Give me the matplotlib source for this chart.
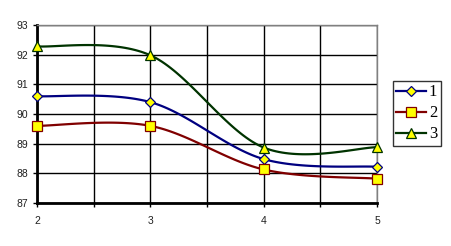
import numpy as np
import matplotlib.pyplot as plt
from matplotlib.ticker import MultipleLocator

x = [2, 3, 4, 5]
s1 = [90.6, 90.4, 88.48, 88.22]
s2 = [89.6, 89.6, 88.13, 87.82]
s3 = [92.28, 91.98, 88.87, 88.88]
labels = ["1", "2", "3"]
colors = ["#000080", "#800000", "#003300"]
markers = ["D", "s", "^"]
msizes = [5, 7, 7]


def smooth(xs, ys, n=40):
    # Excel-like smoothed line: cubic Bezier through the points
    p = np.column_stack([xs, ys]).astype(float)
    ext = np.vstack([p[0], p, p[-1]])
    out = []
    t = np.linspace(0, 1, n)[:, None]
    for i in range(len(p) - 1):
        p0, p1, p2, p3 = ext[i], ext[i + 1], ext[i + 2], ext[i + 3]
        c1 = p1 + (p2 - p0) / 6
        c2 = p2 - (p3 - p1) / 6
        seg = ((1 - t) ** 3) * p1 + 3 * ((1 - t) ** 2) * t * c1 + 3 * (1 - t) * t ** 2 * c2 + t ** 3 * p2
        out.append(seg)
    out = np.vstack(out)
    return out[:, 0], out[:, 1]


fig = plt.figure(figsize=(4.51, 2.46), dpi=100)
ax = fig.add_axes([37 / 451, 43 / 246, 340 / 451, 178 / 246])

for ys, lab, c, m, ms in zip([s1, s2, s3], labels, colors, markers, msizes):
    sx, sy = smooth(x, ys)
    ax.plot(sx, sy, color=c, lw=1.6, zorder=3)
    ax.plot(x, ys, linestyle="none", marker=m, ms=ms, mfc="#FFFF00", mec=c, mew=0.9,
            zorder=4, clip_on=False)
    ax.plot([], [], color=c, lw=1.6, marker=m, ms=ms, mfc="#FFFF00", mec=c, mew=0.9, label=lab)

ax.set_xlim(2, 5)
ax.set_ylim(87, 93)
ax.xaxis.set_major_locator(MultipleLocator(1))
ax.xaxis.set_minor_locator(MultipleLocator(0.5))
ax.yaxis.set_major_locator(MultipleLocator(1))
ax.grid(True, which="both", axis="x", color="black", lw=1)
ax.grid(True, which="major", axis="y", color="black", lw=1)
ax.set_axisbelow(True)

for side in ["top", "right"]:
    ax.spines[side].set_color("#808080")
    ax.spines[side].set_linewidth(1)
for side in ["left", "bottom"]:
    ax.spines[side].set_color("black")
    ax.spines[side].set_linewidth(2)

ax.tick_params(axis="both", which="both", length=3, width=1, labelsize=7.5,
               labelcolor="#202020")
ax.tick_params(axis="x", which="minor", length=3)
ax.tick_params(axis="x", pad=6)
for lbl in ax.get_xticklabels() + ax.get_yticklabels():
    lbl.set_family("Liberation Sans")

leg = fig.legend(loc="upper left", bbox_to_anchor=(393 / 451, 1 - 81 / 246),
                 bbox_transform=fig.transFigure, frameon=True,
                 fancybox=False, edgecolor="black", handlelength=1.75,
                 prop={"family": "Liberation Serif", "size": 12}, borderpad=0.2,
                 labelspacing=0.3, handletextpad=0.2, borderaxespad=0)
leg.get_frame().set_linewidth(1)

fig.savefig("out.png", dpi=100)
